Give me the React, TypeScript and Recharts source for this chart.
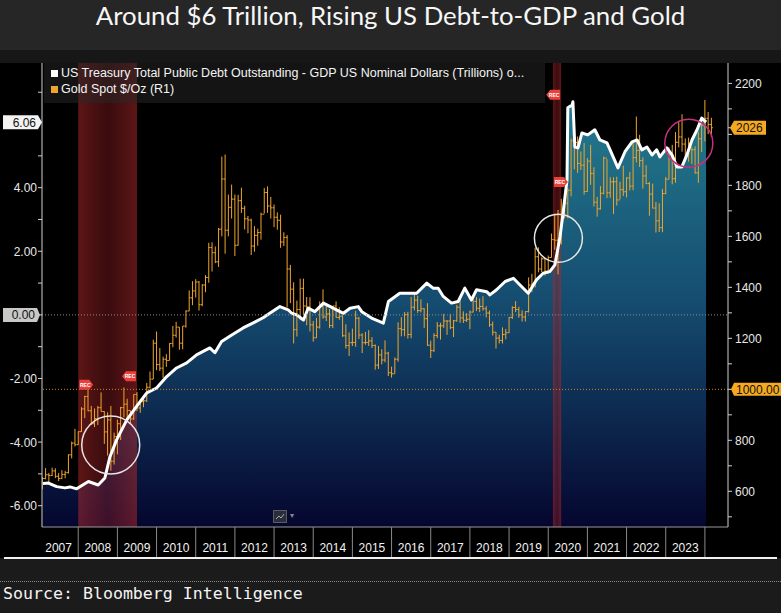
import React from 'react';
import { ComposedChart, XAxis, YAxis, Area, Line, Bar, ReferenceLine, ReferenceDot } from 'recharts';

// Gold spot monthly bars, Jan 2007 .. Feb 2024 (high / low / close)
const goldStartYear = 2007;
const goldFirstOpen = 632;
const goldHigh = [
  656, 691, 672, 693, 690, 672, 683, 680, 745, 795, 845, 835,
  930, 975, 1032, 935, 925, 935, 988, 914, 910, 935, 830, 881,
  931, 1007, 963, 916, 980, 989, 960, 964, 1025, 1070, 1195, 1227,
  1162, 1128, 1138, 1181, 1249, 1265, 1244, 1248, 1310, 1388, 1424, 1432,
  1425, 1413, 1448, 1575, 1577, 1560, 1633, 1913, 1921, 1764, 1803, 1764,
  1763, 1791, 1720, 1680, 1669, 1640, 1630, 1693, 1790, 1796, 1755, 1725,
  1694, 1685, 1616, 1605, 1488, 1420, 1348, 1434, 1434, 1362, 1361, 1268,
  1280, 1345, 1392, 1331, 1315, 1327, 1345, 1322, 1290, 1255, 1223, 1238,
  1308, 1284, 1220, 1225, 1232, 1205, 1176, 1170, 1157, 1192, 1147, 1089,
  1125, 1263, 1283, 1303, 1304, 1362, 1375, 1367, 1353, 1318, 1338, 1191,
  1220, 1264, 1261, 1296, 1271, 1296, 1272, 1331, 1357, 1306, 1299, 1309,
  1366, 1362, 1356, 1365, 1326, 1309, 1266, 1224, 1214, 1243, 1237, 1284,
  1326, 1346, 1324, 1310, 1306, 1439, 1453, 1555, 1557, 1518, 1516, 1525,
  1611, 1689, 1704, 1747, 1765, 1789, 1984, 2075, 1992, 1933, 1966, 1907,
  1959, 1871, 1755, 1797, 1913, 1903, 1832, 1832, 1834, 1814, 1877, 1831,
  1853, 1974, 2070, 1998, 1910, 1879, 1814, 1807, 1735, 1730, 1786, 1833,
  1949, 1959, 2009, 2048, 2079, 1984, 1987, 1949, 1953, 2009, 2052, 2135,
  2088, 2065,
];
const goldLow = [
  608, 647, 636, 660, 652, 640, 648, 651, 670, 729, 776, 782,
  833, 887, 914, 860, 852, 860, 913, 786, 740, 681, 705, 745,
  801, 890, 880, 865, 880, 915, 908, 930, 950, 1003, 1040, 1075,
  1072, 1045, 1088, 1114, 1165, 1203, 1155, 1157, 1242, 1307, 1330, 1360,
  1309, 1326, 1381, 1418, 1462, 1495, 1480, 1600, 1532, 1600, 1670, 1523,
  1564, 1692, 1627, 1612, 1527, 1540, 1563, 1587, 1690, 1692, 1670, 1636,
  1626, 1555, 1562, 1321, 1338, 1180, 1207, 1271, 1292, 1251, 1227, 1187,
  1202, 1238, 1277, 1268, 1240, 1240, 1281, 1273, 1206, 1160, 1131, 1170,
  1167, 1197, 1142, 1175, 1170, 1162, 1077, 1080, 1098, 1106, 1052, 1046,
  1062, 1108, 1208, 1208, 1199, 1200, 1310, 1300, 1302, 1241, 1171, 1123,
  1146, 1201, 1195, 1241, 1214, 1236, 1205, 1265, 1261, 1260, 1264, 1236,
  1302, 1307, 1303, 1309, 1282, 1245, 1211, 1160, 1180, 1180, 1196, 1221,
  1276, 1303, 1281, 1266, 1266, 1301, 1381, 1400, 1459, 1460, 1446, 1454,
  1517, 1547, 1451, 1568, 1670, 1671, 1757, 1863, 1849, 1860, 1764, 1775,
  1802, 1717, 1677, 1705, 1765, 1750, 1751, 1688, 1721, 1746, 1758, 1753,
  1780, 1781, 1890, 1872, 1787, 1805, 1681, 1710, 1615, 1617, 1616, 1765,
  1824, 1804, 1810, 1949, 1932, 1893, 1893, 1884, 1846, 1810, 1931, 1973,
  2001, 1990,
];
const goldClose = [
  650, 665, 662, 680, 659, 650, 666, 673, 743, 789, 783, 834,
  923, 972, 916, 865, 885, 928, 913, 833, 880, 718, 815, 865,
  928, 942, 917, 884, 980, 927, 953, 955, 1008, 1040, 1181, 1097,
  1083, 1118, 1113, 1180, 1212, 1244, 1181, 1248, 1307, 1359, 1386, 1421,
  1332, 1409, 1439, 1556, 1536, 1500, 1628, 1825, 1624, 1714, 1746, 1565,
  1740, 1710, 1669, 1664, 1562, 1604, 1615, 1687, 1772, 1719, 1712, 1675,
  1663, 1578, 1596, 1472, 1393, 1234, 1313, 1396, 1327, 1323, 1253, 1202,
  1244, 1326, 1284, 1296, 1250, 1327, 1282, 1287, 1210, 1172, 1183, 1184,
  1279, 1213, 1183, 1184, 1190, 1172, 1095, 1135, 1115, 1142, 1065, 1061,
  1118, 1238, 1234, 1293, 1215, 1322, 1350, 1309, 1316, 1277, 1173, 1152,
  1211, 1249, 1249, 1268, 1268, 1242, 1269, 1322, 1280, 1271, 1275, 1303,
  1345, 1318, 1325, 1316, 1299, 1253, 1224, 1201, 1192, 1215, 1222, 1282,
  1321, 1313, 1292, 1284, 1305, 1409, 1413, 1520, 1472, 1512, 1464, 1517,
  1587, 1585, 1577, 1686, 1730, 1781, 1975, 1968, 1886, 1879, 1776, 1895,
  1847, 1734, 1708, 1769, 1907, 1771, 1814, 1814, 1743, 1783, 1775, 1829,
  1797, 1909, 1937, 1897, 1837, 1807, 1766, 1711, 1661, 1634, 1768, 1824,
  1928, 1826, 1969, 1990, 1962, 1919, 1965, 1940, 1849, 1983, 2036, 2063,
  2039, 2026,
];

// Debt minus GDP, trillions of USD
const debtDates = [
  2007.10, 2007.24, 2007.45, 2007.66, 2007.79, 2007.96, 2008.26, 2008.51, 2008.68, 2008.81,
  2008.98, 2009.24, 2009.49, 2009.75, 2010.00, 2010.26, 2010.51, 2010.77, 2011.02, 2011.36,
  2011.49, 2011.66, 2011.92, 2012.21, 2012.47, 2012.72, 2012.90, 2013.15, 2013.36, 2013.45,
  2013.58, 2013.75, 2013.87, 2014.04, 2014.26, 2014.51, 2014.77, 2014.94, 2015.15, 2015.24,
  2015.49, 2015.79, 2015.92, 2016.21, 2016.39, 2016.64, 2016.90, 2017.06, 2017.19, 2017.32,
  2017.53, 2017.70, 2017.87, 2018.04, 2018.17, 2018.43, 2018.51, 2018.68, 2018.90, 2019.11,
  2019.28, 2019.49, 2019.70, 2019.87, 2020.04, 2020.17, 2020.30, 2020.38, 2020.48, 2020.50,
  2020.61, 2020.63, 2020.68, 2020.76, 2020.86, 2021.01, 2021.19, 2021.32, 2021.50, 2021.58,
  2021.78, 2021.96, 2022.14, 2022.27, 2022.39, 2022.52, 2022.65, 2022.77, 2022.85, 2023.03,
  2023.16, 2023.29, 2023.41, 2023.54, 2023.67, 2023.80, 2023.92, 2024.03,
];
const debtValues = [
  -5.30, -5.29, -5.40, -5.44, -5.41, -5.47, -5.24, -5.35, -5.13, -4.46,
  -3.93, -3.30, -2.88, -2.45, -2.30, -1.94, -1.67, -1.51, -1.26, -1.04,
  -1.19, -0.84, -0.63, -0.41, -0.25, -0.09, 0.06, 0.26, 0.16, 0.05,
  0.00, -0.16, 0.21, 0.10, 0.37, 0.21, 0.05, 0.21, 0.26, 0.10,
  -0.10, -0.26, 0.42, 0.68, 0.68, 0.68, 1.00, 0.84, 0.84, 0.58,
  0.37, 0.42, 0.84, 0.47, 0.79, 0.73, 0.63, 0.79, 1.05, 1.15,
  0.94, 0.68, 1.10, 1.31, 1.36, 1.57, 2.45, 3.21, 4.25, 6.51,
  6.60, 6.70, 5.28, 5.25, 5.72, 5.66, 5.82, 5.50, 5.41, 5.19,
  4.62, 5.13, 5.44, 5.50, 5.19, 5.28, 5.03, 5.19, 4.97, 5.25,
  5.03, 4.65, 4.65, 5.03, 5.50, 5.82, 6.19, 6.06,
];

const yearBoundaries = [2008, 2009, 2010, 2011, 2012, 2013, 2014, 2015, 2016, 2017, 2018, 2019, 2020, 2021, 2022, 2023, 2024];
const leftDomain = [-6.67, 7.92];
const rightDomain = [460, 2280];
const leftMajor = [-6, -4, -2, 2, 4];
const leftTicks = [-6, -5, -4, -3, -2, -1, 1, 2, 3, 4, 5, 7, 0, 6.06];
const rightMajor = [600, 800, 1200, 1400, 1600, 1800, 2200];
const rightTicks = [500, 600, 700, 800, 900, 1100, 1200, 1300, 1400, 1500, 1600, 1700, 1800, 1900, 2000, 2100, 2200, 1000, 2026];
const recessionStart = [2008.0, 2020.12];
const recessionEnd = [2009.5, 2020.33];
const lastDebt = 6.06;
const lastGold = 2026;

const goldData = goldHigh.map((h, i) => ({
  t: goldStartYear + (i + 1) / 12,
  range: [goldLow[i], h],
  h,
  l: goldLow[i],
  o: i === 0 ? goldFirstOpen : goldClose[i - 1],
  c: goldClose[i],
}));
const debtData = debtDates.map((t, i) => ({ t, v: debtValues[i] }));
// recession shading: full-height band between start and end dates
const bandData = recessionStart.map((a, i) => [
  { t: a, v: leftDomain[1] },
  { t: recessionEnd[i], v: leftDomain[1] },
]);

const GOLD = '#f0a52c';
const AXIS_FONT = '"Liberation Sans", Arial, sans-serif';

const OhlcShape = (props: any) => {
  const { x, y, width, height, payload } = props;
  if (x == null || y == null || !payload) return <g />;
  const top = Math.min(y, y + height);
  const bot = Math.max(y, y + height);
  const span = payload.h - payload.l || 1;
  const cx = x + width / 2;
  const yo = top + ((payload.h - payload.o) / span) * (bot - top);
  const yc = top + ((payload.h - payload.c) / span) * (bot - top);
  return (
    <g stroke={GOLD} strokeWidth={1}>
      <line x1={cx} x2={cx} y1={top} y2={bot} />
      <line x1={cx - 1.5} x2={cx} y1={yo} y2={yo} />
      <line x1={cx} x2={cx + 1.5} y1={yc} y2={yc} />
    </g>
  );
};

const YearTick = ({ x, y, payload }: any) => (
  <g>
    <line x1={x} x2={x} y1={y} y2={y + 30} stroke="#8a8a8a" />
    <text x={x - 19.6} y={y + 25} textAnchor="middle" fill="#f2f2f2" fontSize={12} fontFamily={AXIS_FONT}>
      {payload.value - 1}
    </text>
  </g>
);

const LeftTick = ({ x, y, payload }: any) => {
  const v = payload.value;
  if (v === lastDebt) {
    return (
      <g>
        <path d={`M${x - 34},${y - 7} L${x + 1},${y - 7} L${x + 5},${y} L${x + 1},${y + 7} L${x - 34},${y + 7} Z`} fill="#f4f4f4" />
        <text x={x - 1} y={y + 4.5} textAnchor="end" fill="#111" fontSize={12} fontFamily={AXIS_FONT}>{v.toFixed(2)}</text>
      </g>
    );
  }
  if (v === 0) {
    return (
      <g>
        <path d={`M${x - 34},${y - 7} L${x},${y - 7} L${x + 3},${y} L${x},${y + 7} L${x - 34},${y + 7} Z`} fill="#c8c8c8" />
        <text x={x - 2} y={y + 4.5} textAnchor="end" fill="#111" fontSize={12} fontFamily={AXIS_FONT}>0.00</text>
      </g>
    );
  }
  if (leftMajor.includes(v)) {
    return (
      <text x={x} y={y + 4.5} textAnchor="end" fill="#e8e8e8" fontSize={12} fontFamily={AXIS_FONT}>{v.toFixed(2)}</text>
    );
  }
  return <g />;
};

const RightTick = ({ x, y, payload }: any) => {
  const v = payload.value;
  if (v === lastGold) {
    return (
      <g>
        <path d={`M${x - 5},${y} L${x - 1},${y - 7} L${x + 31},${y - 7} L${x + 31},${y + 7} L${x - 1},${y + 7} Z`} fill="#f6a91e" />
        <text x={x + 1} y={y + 4.5} fill="#111" fontSize={12} fontFamily={AXIS_FONT}>{v}</text>
      </g>
    );
  }
  if (v === 1000) {
    return (
      <g>
        <path d={`M${x - 4},${y} L${x - 1},${y - 6.5} L${x + 60},${y - 6.5} L${x + 60},${y + 6.5} L${x - 1},${y + 6.5} Z`} fill="#f6a91e" />
        <text x={x + 1} y={y + 4.5} fill="#111" fontSize={12} fontFamily={AXIS_FONT}>1000.00</text>
      </g>
    );
  }
  if (rightMajor.includes(v)) {
    return <text x={x} y={y + 4.5} fill="#e8e8e8" fontSize={12} fontFamily={AXIS_FONT}>{v}</text>;
  }
  return <g />;
};

const recMarker = (dir: 'left' | 'right') => (props: any) => {
  const { cx, cy } = props;
  if (cx == null || cy == null) return <g />;
  const d = dir === 'right'
    ? `M${cx + 1},${cy - 5} L${cx + 11},${cy - 5} L${cx + 15},${cy} L${cx + 11},${cy + 5} L${cx + 1},${cy + 5} Z`
    : `M${cx - 1},${cy - 5} L${cx - 11},${cy - 5} L${cx - 15},${cy} L${cx - 11},${cy + 5} L${cx - 1},${cy + 5} Z`;
  const tx = dir === 'right' ? cx + 7 : cx - 7;
  return (
    <g>
      <path d={d} fill="#e8403a" />
      <text x={tx} y={cy + 2} textAnchor="middle" fill="#fff" fontSize={5} fontWeight="bold" fontFamily={AXIS_FONT}>REC</text>
    </g>
  );
};

const App: React.FC = () => {
  return (
    <div style={{ position: 'absolute', left: 0, top: 0, width: 781, height: 613, background: '#1b1b1b', overflow: 'hidden' }}>
      {/* title band */}
      <div style={{ position: 'absolute', left: 0, top: 0, width: 781, height: 50, background: '#262626' }} />
      <div style={{
        position: 'absolute', left: 0, top: 0, width: 781, textAlign: 'center', color: '#f7f7f7',
        fontFamily: 'Lato, "Open Sans", sans-serif', fontSize: 25.8, lineHeight: '31px',
      }}>
        Around $6 Trillion, Rising US Debt-to-GDP and Gold
      </div>
      <div style={{ position: 'absolute', left: 0, top: 50, width: 781, height: 13, background: '#171717' }} />
      <div style={{ position: 'absolute', left: 0, top: 63, width: 781, height: 495, background: '#000' }} />

      <div style={{ position: 'absolute', left: 0, top: 50 }}>
        <ComposedChart width={781} height={508} data={goldData} margin={{ top: 13, right: 0, bottom: 0, left: 0 }}>
          <defs>
            <linearGradient id="debtFill" x1="0" y1="0" x2="0" y2="1">
              <stop offset="0%" stopColor="#237b8e" />
              <stop offset="47%" stopColor="#154c70" />
              <stop offset="100%" stopColor="#05062e" />
            </linearGradient>
            <linearGradient id="recFill" x1="0" y1="0" x2="1" y2="0">
              <stop offset="0%" stopColor="#b42a2a" stopOpacity={0.52} />
              <stop offset="50%" stopColor="#8a1c22" stopOpacity={0.42} />
              <stop offset="100%" stopColor="#b42a2a" stopOpacity={0.52} />
            </linearGradient>
          </defs>
          <XAxis
            dataKey="t" type="number" domain={[2007.075, 2024.59]} allowDataOverflow
            ticks={yearBoundaries} interval={0} tick={YearTick} tickLine={false}
            tickSize={0} tickMargin={0} height={31} axisLine={{ stroke: '#9a9a9a' }}
          />
          <YAxis
            yAxisId="left" orientation="left" width={42} domain={leftDomain} allowDataOverflow
            ticks={leftTicks} interval={0} tick={LeftTick} tickSize={4} tickMargin={1}
            tickLine={{ stroke: '#cfcfcf' }} axisLine={{ stroke: '#cfcfcf' }}
          />
          <YAxis
            yAxisId="right" orientation="right" width={53} domain={rightDomain} allowDataOverflow
            ticks={rightTicks} interval={0} tick={RightTick} tickSize={4} tickMargin={3}
            tickLine={{ stroke: '#cfcfcf' }} axisLine={{ stroke: '#cfcfcf' }}
          />
          <Area
            yAxisId="left" data={debtData} dataKey="v" type="linear" stroke="none"
            fill="url(#debtFill)" fillOpacity={1} baseValue={leftDomain[0]} isAnimationActive={false}
          />
          {bandData.map((band, i) => (
            <Area
              key={i} yAxisId="left" data={band} dataKey="v" type="linear" stroke="none"
              fill="url(#recFill)" fillOpacity={1} baseValue={leftDomain[0]} isAnimationActive={false}
            />
          ))}
          <Bar yAxisId="right" dataKey="range" barSize={3} shape={OhlcShape} isAnimationActive={false} />
          <Line
            yAxisId="left" data={debtData} dataKey="v" type="linear" stroke="#ffffff" strokeWidth={3}
            dot={false} activeDot={false} strokeLinejoin="round" isAnimationActive={false}
          />
          <ReferenceLine yAxisId="left" y={0} stroke="#8c8c8c" strokeDasharray="1 2" />
          <ReferenceLine yAxisId="right" y={1000} stroke="#d08a20" strokeDasharray="1 2" />
          <ReferenceDot yAxisId="left" x={2008.83} y={-4.09} r={29} fill="none" stroke="#e6e6e6" strokeWidth={1.5} />
          <ReferenceDot yAxisId="left" x={2020.26} y={2.41} r={24} fill="none" stroke="#e6e6e6" strokeWidth={1.5} />
          <ReferenceDot yAxisId="left" x={2023.59} y={5.40} r={24} fill="none" stroke="#c8307e" strokeWidth={1.5} />
          <ReferenceDot yAxisId="left" x={2008.0} y={-2.2} r={1} shape={recMarker('right')} />
          <ReferenceDot yAxisId="left" x={2009.5} y={-1.93} r={1} shape={recMarker('left')} />
          <ReferenceDot yAxisId="left" x={2020.33} y={6.92} r={1} shape={recMarker('left')} />
          <ReferenceDot yAxisId="left" x={2020.12} y={4.18} r={1} shape={recMarker('right')} />
        </ComposedChart>
      </div>

      {/* legend */}
      <div style={{
        position: 'absolute', left: 44, top: 63, width: 501, height: 40, background: 'rgba(40,40,40,0.5)',
        fontFamily: AXIS_FONT, fontSize: 12.5, color: '#f4f4f4',
      }}>
        <div style={{ position: 'absolute', left: 7, top: 2, whiteSpace: 'nowrap', lineHeight: '16px' }}>
          <span style={{ display: 'inline-block', width: 7, height: 7, background: '#fff', marginRight: 3 }} />
          US Treasury Total Public Debt Outstanding - GDP US Nominal Dollars (Trillions) o...
        </div>
        <div style={{ position: 'absolute', left: 7, top: 18, whiteSpace: 'nowrap', lineHeight: '16px' }}>
          <span style={{ display: 'inline-block', width: 7, height: 7, background: GOLD, marginRight: 3 }} />
          Gold Spot $/Oz (R1)
        </div>
      </div>

      {/* chart menu icon */}
      <div style={{
        position: 'absolute', left: 273, top: 510, width: 14, height: 13, background: '#2a2d3a',
        border: '1px solid #5a5a66', boxSizing: 'border-box',
      }}>
        <svg width={12} height={11} style={{ position: 'absolute', left: 0, top: 0 }}>
          <polyline points="2,8 5,5 7,7 10,3" fill="none" stroke="#aaa" strokeWidth={1} />
        </svg>
      </div>
      <div style={{ position: 'absolute', left: 290, top: 511, color: '#888', fontSize: 8, fontFamily: AXIS_FONT }}>▾</div>

      {/* footer */}
      <div style={{ position: 'absolute', left: 4, top: 557, width: 773, height: 1.5, background: '#f2f2f2' }} />
      <div style={{ position: 'absolute', left: 0, top: 581, width: 781, borderTop: '1px dotted #8a8a8a' }} />
      <div style={{
        position: 'absolute', left: 3, top: 582, color: '#f4f4f4', whiteSpace: 'nowrap',
        fontFamily: '"DejaVu Sans Mono", monospace', fontSize: 16.6, lineHeight: '24px',
      }}>
        Source: Bloomberg Intelligence
      </div>
    </div>
  );
};

export default App;
